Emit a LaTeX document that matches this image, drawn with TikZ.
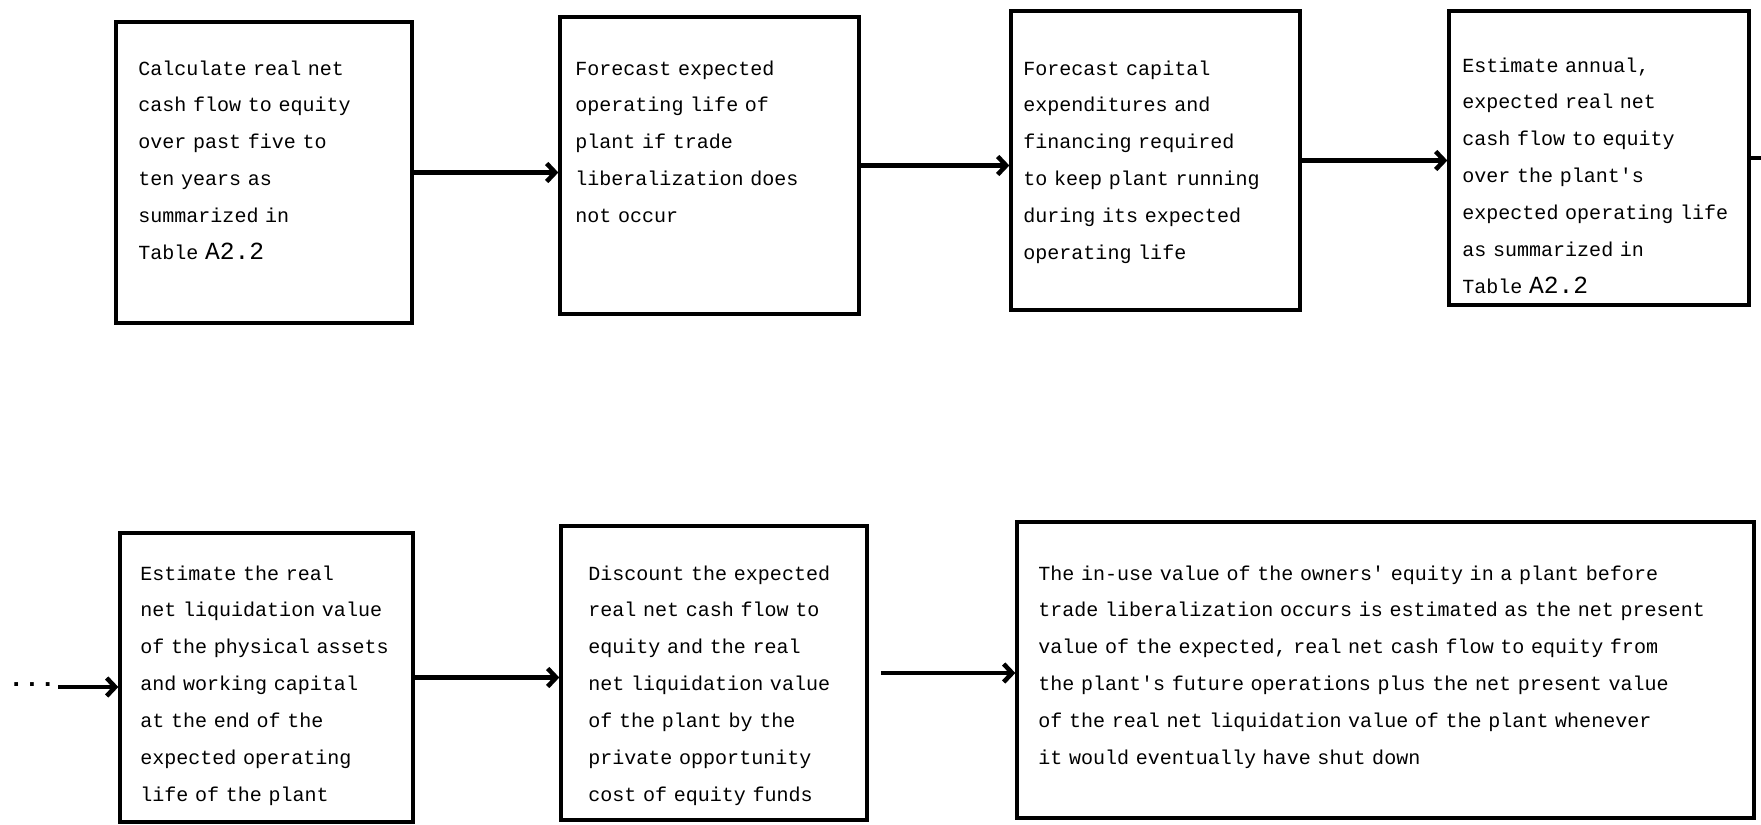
\documentclass[tikz,border=0pt]{standalone}
\usepackage{fontspec}
\newfontfamily\typewriter{Liberation Mono}
\usetikzlibrary{fit,arrows.meta}

\tikzset{
  stepbox/.style={draw,line width=1.9pt,inner sep=0pt},
  steptext/.style={anchor=base west,inner sep=0pt,text width=150mm,align=left,
    font=\typewriter\fontsize{11.4}{21}\selectfont},
  flow/.style={-{Straight Barb[length=1.7mm,width=3.6mm]},line width=2.6pt},
}
\newcommand{\tabref}{{\fontsize{14}{21}\selectfont A2.2}}

\begin{document}
\begin{tikzpicture}[x=0.2mm,y=-0.2mm]
  \useasboundingbox (0,0) rectangle (1761,825);
  % upper row
  \node[stepbox,fit={(116,22) (412,323)}] (pastflow) {};
  \node[steptext] (pastflowtext) at (138,75) {Calculate real net\\cash flow to equity\\over past five to\\ten years as\\summarized in\\Table \tabref};
  \node[stepbox,fit={(560,17) (859,314)}] (oplife) {};
  \node[steptext] (oplifetext) at (575,75) {Forecast expected\\operating life of\\plant if trade\\liberalization does\\not occur};
  \node[stepbox,fit={(1011,11) (1300,310)}] (capex) {};
  \node[steptext] (capextext) at (1023,75) {Forecast capital\\expenditures and\\financing required\\to keep plant running\\during its expected\\operating life};
  \node[stepbox,fit={(1449,11) (1749,305)}] (futflow) {};
  \node[steptext] (futflowtext) at (1462,72) {Estimate annual,\\expected real net\\cash flow to equity\\over the plant's\\expected operating life\\as summarized in\\Table \tabref};
  \coordinate (offpage) at (1761,161);
  \draw[flow] (pastflow.east) -- (pastflow.east -| oplife.west);
  \draw[flow] (oplife.east) -- (oplife.east -| capex.west);
  \draw[flow] (capex.east) -- (capex.east -| futflow.west);
  \draw[line width=2.6pt] (futflow.east) -- (futflow.east -| offpage);
  % lower row
  \node[anchor=base west,inner sep=0pt,font=\typewriter\bfseries\fontsize{15}{21}\selectfont] (dots) at (8,686) {...};
  \coordinate (dotsend) at (58,687);
  \node[stepbox,fit={(120,533) (413,822)}] (liquid) {};
  \node[steptext] (liquidtext) at (140,580) {Estimate the real\\net liquidation value\\of the physical assets\\and working capital\\at the end of the\\expected operating\\life of the plant};
  \node[stepbox,fit={(561,526) (867,820)}] (discount) {};
  \node[steptext] (discounttext) at (588,580) {Discount the expected\\real net cash flow to\\equity and the real\\net liquidation value\\of the plant by the\\private opportunity\\cost of equity funds};
  \node[stepbox,fit={(1017,522) (1754,818)}] (inuse) {};
  \node[steptext] (inusetext) at (1038,580) {The in-use value of the owners' equity in a plant before\\trade liberalization occurs is estimated as the net present\\value of the expected, real net cash flow to equity from\\the plant's future operations plus the net present value\\of the real net liquidation value of the plant whenever\\it would eventually have shut down};
  \draw[flow] (dotsend) -- (dotsend -| liquid.west);
  \draw[flow] (liquid.east) -- (liquid.east -| discount.west);
  \draw[flow,shorten <=7pt] (discount.east) -- (discount.east -| inuse.west);
\end{tikzpicture}
\end{document}
